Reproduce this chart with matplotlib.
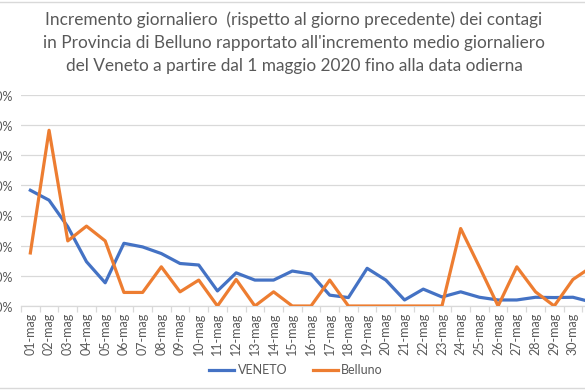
import matplotlib
matplotlib.use("Agg")
import matplotlib.pyplot as plt
from matplotlib.lines import Line2D
from matplotlib.ticker import FixedLocator, FuncFormatter

plt.rcParams['font.family'] = ['Lato', 'DejaVu Sans']

days = [f"{d:02d}-mag" for d in range(1, 32)]
veneto = [0.384, 0.351, 0.263, 0.147, 0.077, 0.208, 0.196, 0.174, 0.141, 0.136,
          0.050, 0.110, 0.086, 0.086, 0.116, 0.106, 0.036, 0.028, 0.125, 0.086,
          0.020, 0.056, 0.030, 0.047, 0.029, 0.020, 0.020, 0.029, 0.028, 0.029, 0.013]
belluno = [0.176, 0.583, 0.216, 0.265, 0.216, 0.045, 0.045, 0.130, 0.047, 0.086,
           0.000, 0.088, 0.000, 0.047, 0.000, 0.000, 0.086, 0.000, 0.000, 0.000,
           0.000, 0.000, 0.000, 0.257, 0.130, 0.000, 0.130, 0.047, 0.000, 0.088, 0.130]
yticks = [0.0, 0.1, 0.2, 0.3, 0.4, 0.5, 0.6, 0.7]
title = ("Incremento giornaliero  (rispetto al giorno precedente) dei contagi\n"
         "in Provincia di Belluno rapportato all'incremento medio giornaliero\n"
         "del Veneto a partire dal 1 maggio 2020 fino alla data odierna")

W, H = 585, 390
fig = plt.figure(figsize=(W / 100, H / 100), dpi=100)
fig.patch.set_facecolor('white')

# axes: left 21px, bottom at 306px, top at 95px, right beyond canvas
left, right, top, bottom = 21, 601, 95, 306
ax = fig.add_axes([left / W, 1 - bottom / H, (right - left) / W, (bottom - top) / H])

x = list(range(1, len(days) + 1))
ax.plot(x, veneto, color='#4472C4', lw=2.3, solid_joinstyle='round', zorder=3)
ax.plot(x, belluno, color='#ED7D31', lw=2.3, solid_joinstyle='round', zorder=3)

ax.set_xlim(0.5, len(days) + 0.5)
ax.set_ylim(0, 0.7)
ax.set_yticks(yticks)
ax.yaxis.set_major_formatter(FuncFormatter(lambda v, p: f"{v:.2f}%".replace('.', ',')))
ax.grid(axis='y', color='#D9D9D9', lw=0.9)
ax.set_axisbelow(True)

ax.set_xticks(x)
ax.set_xticklabels(days, rotation=90, fontsize=9, color='#595959')
ax.xaxis.set_minor_locator(FixedLocator([i + 0.5 for i in range(0, len(days) + 1)]))
ax.tick_params(axis='x', which='major', length=0, pad=5)
ax.tick_params(axis='x', which='minor', length=4, color='#D9D9D9', width=0.9)
ax.tick_params(axis='y', length=0, labelsize=9, labelcolor='#595959', pad=6)

for s in ['top', 'right', 'left']:
    ax.spines[s].set_visible(False)
ax.spines['bottom'].set_color('#D9D9D9')
ax.spines['bottom'].set_linewidth(0.9)

fig.text(294 / W, 1 - 11 / H, title, ha='center', va='top', fontsize=12.4,
         color='#595959', linespacing=1.55)

handles = [Line2D([], [], color='#4472C4', lw=2.3), Line2D([], [], color='#ED7D31', lw=2.3)]
fig.legend(handles, ['VENETO', 'Belluno'], loc='center', bbox_to_anchor=(296 / W, 1 - 370 / H),
           ncol=2, frameon=False, fontsize=9, labelcolor='#595959', handlelength=2.0,
           handletextpad=0.3, columnspacing=2.0)

# chart border lines (top and bottom visible)
fig.add_artist(Line2D([0, 1], [1 - 1.5 / H, 1 - 1.5 / H], color='#D9D9D9', lw=1))
fig.add_artist(Line2D([0, 1], [1 - 388 / H, 1 - 388 / H], color='#D9D9D9', lw=1))

fig.savefig('out.png', dpi=100, facecolor='white')
